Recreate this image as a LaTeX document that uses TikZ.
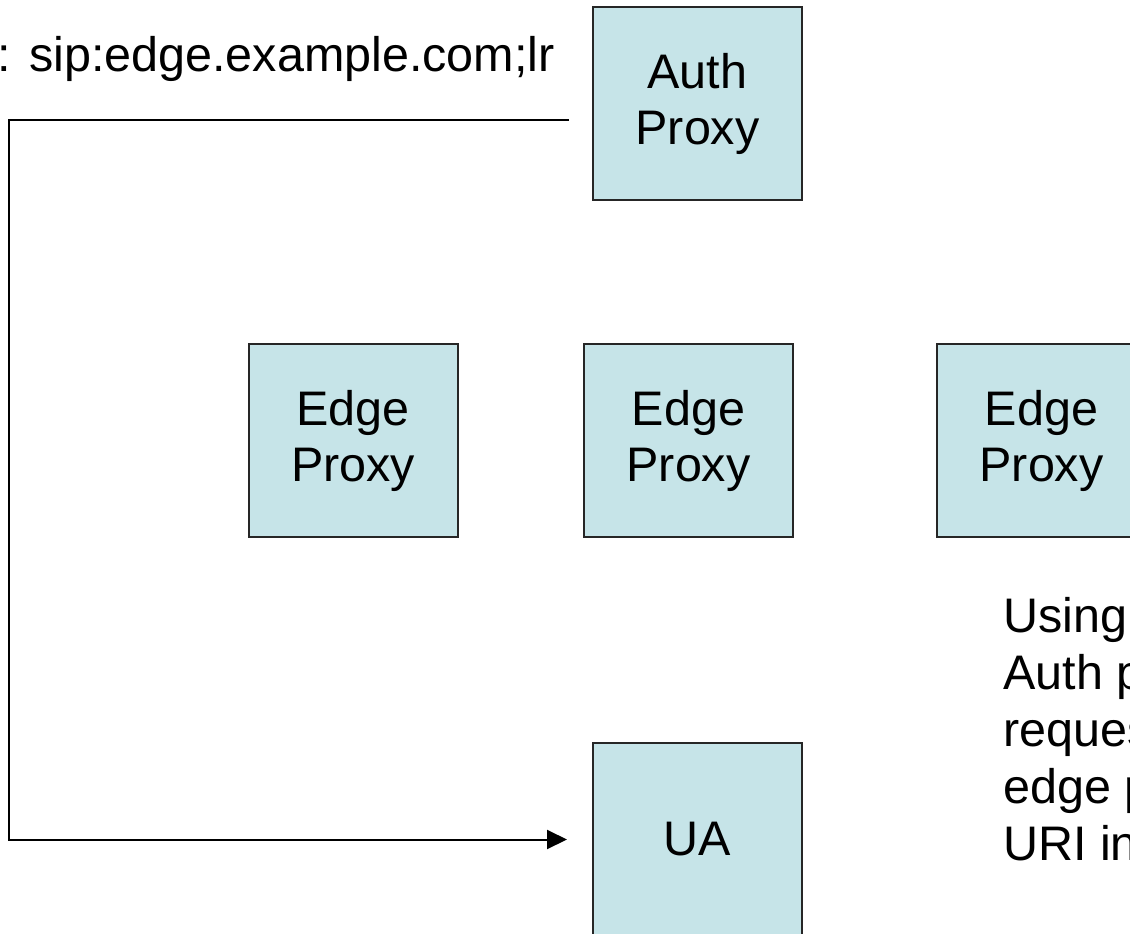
\documentclass[tikz,border=0pt]{standalone}
\usepackage{fontspec}
\setmainfont{Liberation Sans}
\usetikzlibrary{arrows.meta}
\definecolor{proxyfill}{RGB}{198,228,232}
\begin{document}
\begin{tikzpicture}[x=1pt, y=-1pt,
    proxy/.style = {draw=black!85, fill=proxyfill, line width=2pt, minimum width=209pt,
      minimum height=193pt, align=center, font=\fontsize{48.5}{56}\selectfont},
    note/.style = {inner sep=0pt, align=left, font=\fontsize{48.5}{57}\selectfont}]
  \useasboundingbox (0,0) rectangle (1130,934);

  \node[proxy] (auth) at (697.5,103.5) {Auth\\Proxy};
  \foreach \x [count=\i] in {353,688.5,1041.5}
    \node[proxy] (edge\i) at (\x,440.5) {Edge\\Proxy};
  \node[proxy] (ua) at (697.5,839.5) {UA};

  \node[note, anchor=base east] (route) at (555,72) {t: sip:edge.example.com;lr};
  \node[note, anchor=base west] (using) at (1003,860) {Using\\Auth proxy\\request\\edge proxy\\URI in};

  % the request goes round the edge proxies
  \coordinate (turn) at (9,0);
  \draw[line width=2pt, -{Triangle[length=20pt,width=19pt]}, shorten <=23pt, shorten >=25pt]
    ([yshift=-16.5pt]auth.west) -| (turn |- ua.west) -- (ua.west);
\end{tikzpicture}
\end{document}
